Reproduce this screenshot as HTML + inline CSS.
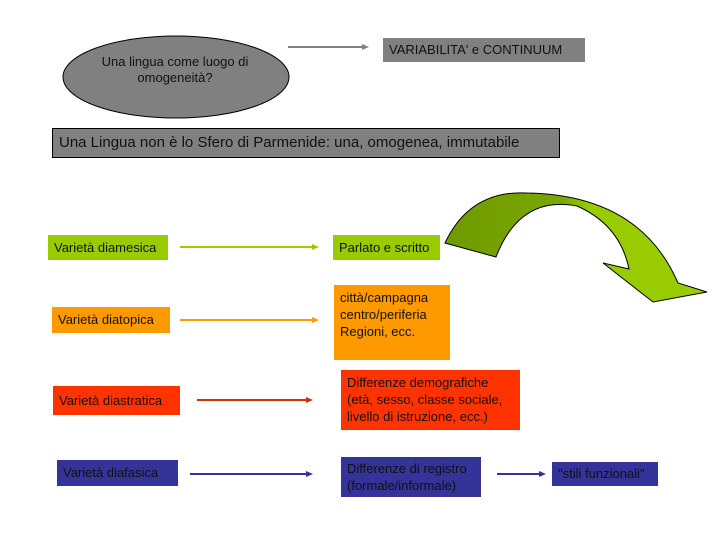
<html><head><style>
body{margin:0;width:720px;height:540px;background:#fff;position:relative;overflow:hidden;font-family:"Liberation Sans",sans-serif;color:#111}
.b{position:absolute;box-sizing:border-box;font-size:13px;line-height:17px;padding:4px 6px}
</style></head><body>
<svg width="720" height="540" style="position:absolute;left:0;top:0">
<ellipse cx="176" cy="77" rx="113" ry="41" fill="#808080" stroke="#000"/>
<line x1="288" y1="47" x2="366" y2="47" stroke="#808080" stroke-width="2"/><path d="M362,44L369,47L362,50z" fill="#808080"/>
<g stroke-width="2">
<line x1="180" y1="247" x2="314" y2="247" stroke="#99cc00"/><path d="M312,244L319,247L312,250z" fill="#99cc00"/>
<line x1="180" y1="320" x2="314" y2="320" stroke="#ff9900"/><path d="M312,317L319,320L312,323z" fill="#ff9900"/>
<line x1="197" y1="400" x2="308" y2="400" stroke="#cc3300"/><path d="M306,397L313,400L306,403z" fill="#cc3300"/>
<line x1="190" y1="474" x2="308" y2="474" stroke="#333399"/><path d="M306,471L313,474L306,477z" fill="#333399"/>
<line x1="497" y1="474" x2="541" y2="474" stroke="#333399"/><path d="M539,471L546,474L539,477z" fill="#333399"/>
</g>
<defs><linearGradient id="g" x1="0" y1="0" x2="1" y2="0"><stop offset="0" stop-color="#6f9a00"/><stop offset="0.45" stop-color="#7aa800"/><stop offset="0.55" stop-color="#99cc00"/><stop offset="1" stop-color="#99cc00"/></linearGradient></defs>
<path d="M445,243 Q470,190 527,193 Q640,195 678,283 L707,292 L653,302 L603,263 L629,269 Q620,225 577,206 Q520,195 496,257 Z" fill="url(#g)" stroke="#000" stroke-width="1"/>
</svg>
<div style="position:absolute;left:80px;top:54px;width:190px;text-align:center;font-size:13px;line-height:16px">Una lingua come luogo di<br>omogeneità?</div>
<div class="b" style="left:383px;top:38px;width:202px;height:24px;background:#808080;padding:3px 6px">VARIABILITA' e CONTINUUM</div>
<div class="b" style="left:52px;top:128px;width:508px;height:30px;background:#808080;border:1px solid #000;font-size:15px;padding:5px 6px">Una Lingua non è lo Sfero di Parmenide: una, omogenea, immutabile</div>
<div class="b" style="left:48px;top:235px;width:120px;height:25px;background:#99cc00">Varietà diamesica</div>
<div class="b" style="left:333px;top:235px;width:107px;height:25px;background:#99cc00">Parlato e scritto</div>
<div class="b" style="left:52px;top:307px;width:118px;height:26px;background:#ff9900">Varietà diatopica</div>
<div class="b" style="left:334px;top:285px;width:116px;height:75px;background:#ff9900"> città/campagna<br>centro/periferia<br>Regioni, ecc.</div>
<div class="b" style="left:53px;top:386px;width:127px;height:29px;background:#ff3300;padding-top:6px">Varietà diastratica</div>
<div class="b" style="left:341px;top:370px;width:179px;height:60px;background:#ff3300">Differenze demografiche<br>(età, sesso, classe sociale,<br>livello di istruzione, ecc.)</div>
<div class="b" style="left:57px;top:460px;width:121px;height:26px;background:#333399">Varietà diafasica</div>
<div class="b" style="left:341px;top:457px;width:140px;height:40px;background:#333399;padding-top:3px">Differenze di registro<br>(formale/informale)</div>
<div class="b" style="left:552px;top:462px;width:106px;height:24px;background:#333399;padding-top:3px">"stili funzionali"</div>
</body></html>
